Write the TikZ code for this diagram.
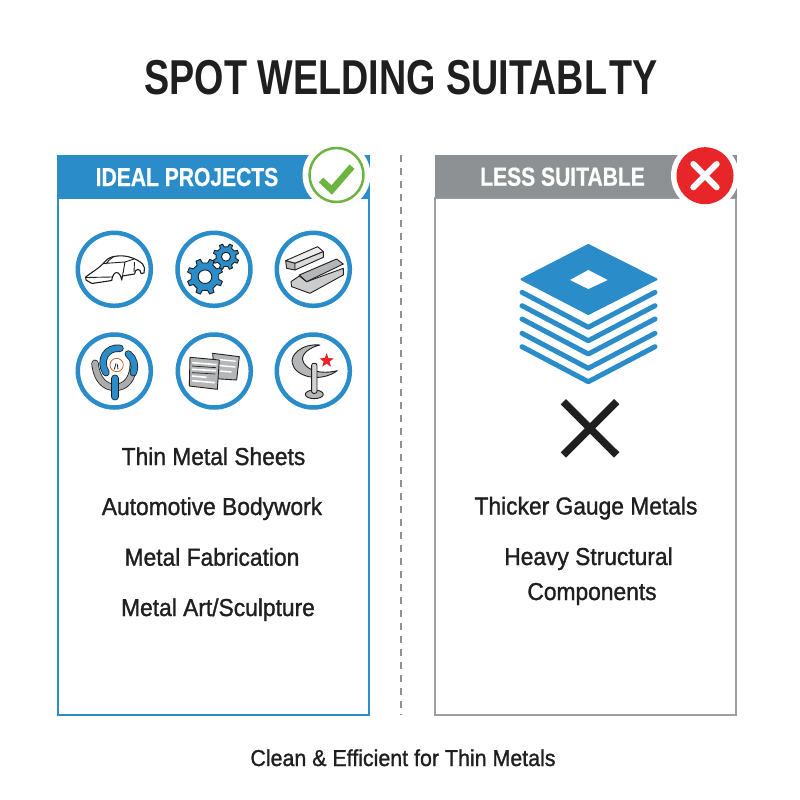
\documentclass[tikz,border=0pt]{standalone}
\usepackage{fontspec}
\setmainfont{Liberation Sans}
\newfontfamily\titlefont[FakeStretch=0.77]{Liberation Sans Bold}
\newfontfamily\headfont[FakeStretch=0.81,FakeBold=0.6]{Liberation Sans}
\newfontfamily\itemfont[FakeStretch=0.93,FakeBold=1.2]{Liberation Sans}
\usetikzlibrary{calc,shapes.geometric}
\definecolor{weldblue}{HTML}{2A8CC8}
\definecolor{weldgrey}{HTML}{8E9194}
\definecolor{weldgreen}{HTML}{6CB33F}
\definecolor{weldred}{HTML}{E8262A}
\definecolor{weldink}{HTML}{1F1F1F}
\definecolor{sheetgrey}{HTML}{B4B6B8}
\tikzset{
	iconring/.style={draw=weldblue, line width=4.5pt, fill=white, circle, minimum size=73pt, inner sep=0pt},
	itemtext/.style={font=\fontsize{24.5}{28}\selectfont\itemfont, text=weldink, inner sep=0pt, anchor=base},
	headtext/.style={font=\fontsize{26}{30}\selectfont\bfseries\headfont, text=white, inner sep=0pt, anchor=base},
	iconline/.style={draw=weldink, line width=0.9pt, line join=round},
}
\def\gearshape(#1,#2)(#3:#4:#5){
	\draw[iconline, fill=weldblue] ($(#1,#2)+(-15:#3)$) \foreach \a in {0,45,...,315} {
		-- ($(#1,#2)+(\a-15:#3)$) -- ($(#1,#2)+(\a-11:#4)$) -- ($(#1,#2)+(\a+11:#4)$) -- ($(#1,#2)+(\a+15:#3)$)
	} -- cycle;
	\draw[iconline, fill=white] (#1,#2) circle (#5);
}
\begin{document}
\begin{tikzpicture}[x=1pt, y=-1pt]
	\useasboundingbox (0,0) rectangle (800,800);
	\fill[white] (0,0) rectangle (800,800);
	%%%%% TITLE %%%%%
	\node[font=\fontsize{49}{54}\selectfont\titlefont, text=weldink, inner sep=0pt, anchor=base] (title) at (401,94.3) {SPOT WELDING SUITABL\kern2pt TY};
	
	%%%%% LEFT PANEL %%%%%
	\draw[weldblue, line width=2pt] (58,198) rectangle (369,715);
	\fill[weldblue] (57,155) rectangle (370,198);
	\node[headtext] (idealhead) at (187,186) {IDEAL PROJECTS};
	\node[circle, fill=white, minimum size=68pt, inner sep=0pt] (okback) at (336.5,175) {};
	\node[circle, draw=weldgreen, line width=2.5pt, fill=white, minimum size=54pt, inner sep=0pt] (okbadge) at (336.5,175) {};
	\draw[weldgreen, line width=6.5pt] (321,180) -- (331.7,190) -- (352,166.7);
	
	\node[iconring] (carring) at (114.3,269.3) {};
	\node[iconring] (gearring) at (214,269.3) {};
	\node[iconring] (barring) at (313.3,269.3) {};
	\node[iconring] (gunring) at (114.3,371) {};
	\node[iconring] (sheetring) at (214.3,371) {};
	\node[iconring] (artring) at (313.3,371) {};
	
	% car
	\draw[iconline, line width=1.1pt, fill=white] (85.7,277) .. controls (92,272) and (98,269) .. (103.3,263.5) .. controls (107,259) and (110,257) .. (114,256.5) .. controls (122,255) and (130,256) .. (138.3,260.7) .. controls (142,263) and (144,265) .. (144.5,268) -- (144,273) -- (141,273.5) .. controls (141,268) and (135,268) .. (134.5,274) -- (122.5,276) -- (121.7,280) .. controls (120,270) and (113,270) .. (111.7,280.5) -- (92,283.5) -- (86,280) -- cycle;
	\draw[iconline] (103.3,263.5) -- (125,262) -- (134,259) (114,256.5) .. controls (110,259) and (107,262) .. (106,264) (125,262) -- (122.5,276) (86,277.5) -- (112,277) (134.5,262) -- (134,272);
	
	% gears
	\gearshape(205,276.7)(18:14:6.8)
	\gearshape(226,256.7)(13:10:4.5)
	
	% bars
	\begin{scope}[shift={(50,140)}, scale=0.3333]
		\draw[iconline, fill=gray!15] (707,362) -- (803,320) -- (820,335) -- (735,370) -- cycle;
		\draw[iconline, fill=sheetgrey] (707,362) -- (735,370) -- (735,390) -- (710,385) -- cycle;
		\draw[iconline, fill=gray!30] (735,370) -- (820,335) -- (820,352) -- (735,390) -- cycle;
		\draw[iconline, fill=gray!40] (723,425) -- (748,408) -- (770,425) -- (880,385) -- (880,405) -- (780,460) -- (725,440) -- cycle;
		\draw[iconline, fill=sheetgrey] (748,405) -- (860,357) -- (880,372) -- (770,425) -- cycle;
	\end{scope}
	
	% spot welder
	\begin{scope}[shift={(70,330)}, scale=0.3333]
		\draw[weldink, line width=7.4pt, line cap=round] (75,100) .. controls (80,150) and (105,172) .. (135,172) .. controls (165,172) and (190,150) .. (190,100);
		\draw[gray!65, line width=5.8pt, line cap=round] (75,100) .. controls (80,150) and (105,172) .. (135,172) .. controls (165,172) and (190,150) .. (190,100);
		\draw[weldink, line width=7.4pt, line cap=round] (150,55) .. controls (110,50) and (85,90) .. (108,128);
		\draw[weldblue, line width=5.8pt, line cap=round] (150,55) .. controls (110,50) and (85,90) .. (108,128);
		\draw[weldink, line width=7.4pt, line cap=round] (175,72) .. controls (192,85) and (198,110) .. (190,128);
		\draw[weldblue, line width=5.8pt, line cap=round] (175,72) .. controls (192,85) and (198,110) .. (190,128);
		\draw[brown!80!red, line width=0.8pt, fill=white] (140,105) circle (20);
		\draw[weldink, line width=0.8pt] (133,118) -- (138,100) (142,103) -- (144,118);
		\draw[weldink, line width=7.4pt, line cap=round] (135,145) -- (135,200);
		\draw[weldblue, line width=5.8pt, line cap=round] (135,145) -- (135,200);
	\end{scope}
	
	% sheets
	\begin{scope}[shift={(60,320)}, scale=0.3333]
		\draw[iconline, fill=sheetgrey] (458,100) -- (538,110) -- (530,180) -- (465,176) -- cycle;
		\draw[white, line width=1.4pt] (470,118) -- (528,124) (472,136) -- (526,141) (480,153) -- (515,156);
		\draw[iconline, fill=sheetgrey] (390,112) -- (478,120) -- (472,208) -- (388,198) -- cycle;
		\draw[white, line width=1.6pt] (396,128) -- (470,134) (396,148) -- (468,152) (396,168) -- (440,172) (396,182) -- (465,188);
		\draw[weldink, line width=0.7pt] (396,138) -- (468,143) (396,158) -- (466,162);
	\end{scope}
	
	% crescent art
	\begin{scope}[shift={(60,320)}, scale=0.3333]
		\draw[iconline, fill=sheetgrey] (780,75) .. controls (725,70) and (690,105) .. (697,130) .. controls (705,170) and (780,190) .. (832,152) .. controls (780,165) and (735,150) .. (728,120) .. controls (725,100) and (750,82) .. (780,75) -- cycle;
		\draw[iconline, fill=sheetgrey] (763,223) ellipse (27 and 13);
		\draw[iconline, fill=gray!35, rounded corners=2pt] (755,220) -- (755,130) -- (771,130) -- (771,220) -- cycle;
		\node[star, star points=5, star point ratio=2.4, fill=weldred, minimum size=15pt, inner sep=0pt] (artstar) at (800,122) {};
	\end{scope}
	
	\node[itemtext] (thinsheets) at (213.5,465) {Thin Metal Sheets};
	\node[itemtext] (autobody) at (212,515) {Automotive Bodywork};
	\node[itemtext] (fabrication) at (212,565.7) {Metal Fabrication};
	\node[itemtext] (sculpture) at (218,616) {Metal Art/Sculpture};
	
	%%%%% DIVIDER %%%%%
	\coordinate (divtop) at (401,155);
	\coordinate (divend) at (401,715);
	\draw[weldgrey, line width=1.3pt, dash pattern=on 7pt off 6pt] (divtop) -- (divend);
	
	%%%%% RIGHT PANEL %%%%%
	\draw[gray!75, line width=2pt] (435,198) rectangle (736,715);
	\fill[weldgrey] (434.5,155) rectangle (736.5,198);
	\node[headtext] (lesshead) at (562.5,185.7) {LESS SUITABLE};
	\node[circle, fill=white, minimum size=68pt, inner sep=0pt] (noback) at (705,175.7) {};
	\node[circle, fill=weldred, minimum size=57pt, inner sep=0pt] (nobadge) at (705,175.7) {};
	\draw[white, line width=6pt, line cap=round] (693.3,164) -- (716.7,187.3) (716.7,164) -- (693.3,187.3);
	
	% stack of sheets
	\fill[weldblue, draw=weldblue, line width=2pt, line join=round] (588.3,245) -- (656.5,279.3) -- (588.3,314) -- (521.5,279.3) -- cycle;
	\fill[white] (588.3,270) -- (607.7,280) -- (588.3,289) -- (570,280) -- cycle;
	\foreach \ytop in {292.3,305.7,319,333.3,346.7}
		\draw[weldblue, line width=5pt, line cap=round, line join=round] (522,\ytop) -- (588.3,\ytop+35) -- (655,\ytop);
	
	\draw[weldink, line width=7.5pt] (563.3,401.7) -- (616.7,455) (616.7,401.7) -- (563.3,455);
	
	\node[itemtext] (thicker) at (586,514.5) {Thicker Gauge Metals};
	\node[itemtext] (heavy) at (588.5,565) {Heavy Structural};
	\node[itemtext] (components) at (592,600) {Components};
	
	%%%%% FOOTER %%%%%
	\node[itemtext, font=\fontsize{23}{27}\selectfont\itemfont] (footer) at (403,766) {Clean \& Efficient for Thin Metals};
\end{tikzpicture}
\end{document}
